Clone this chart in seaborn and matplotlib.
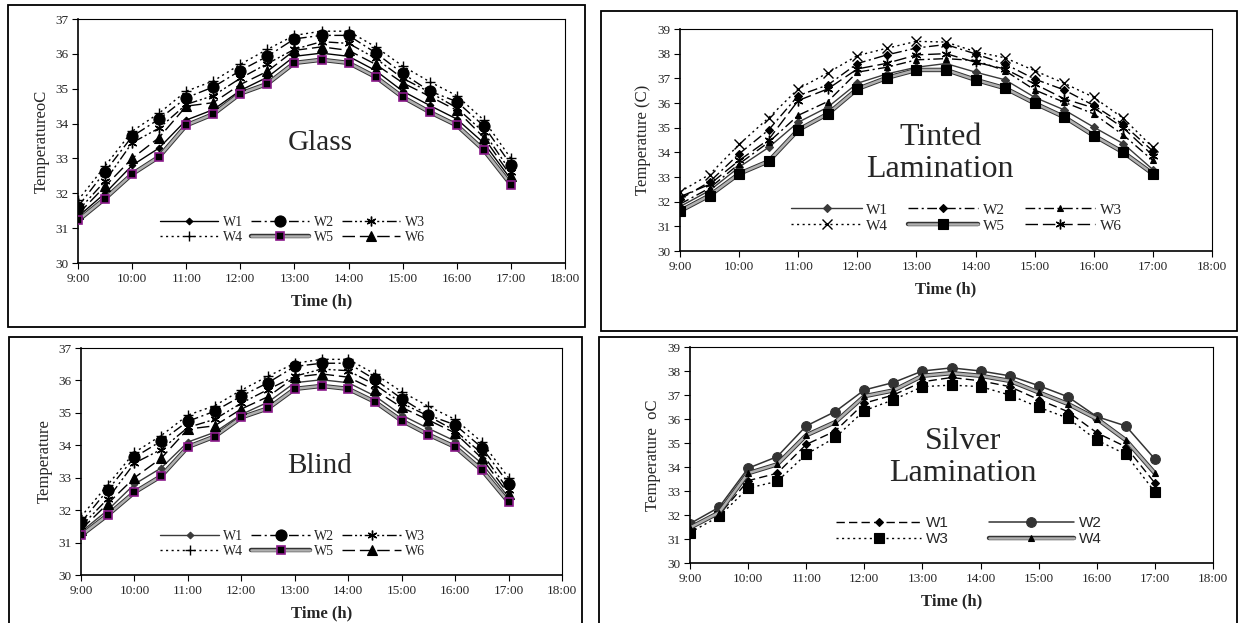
import matplotlib
matplotlib.use("Agg")
import matplotlib.pyplot as plt
import matplotlib.patheffects as pe
from matplotlib.patches import Rectangle
from matplotlib.legend_handler import HandlerTuple
import seaborn as sns

# ---------------- data ----------------
times = [9.0, 9.5, 10.0, 10.5, 11.0, 11.5, 12.0, 12.5, 13.0, 13.5,
         14.0, 14.5, 15.0, 15.5, 16.0, 16.5, 17.0]
x_ticks = [9, 10, 11, 12, 13, 14, 15, 16, 17, 18]
x_tick_labels = ["9:00", "10:00", "11:00", "12:00", "13:00", "14:00",
                 "15:00", "16:00", "17:00", "18:00"]
series_names6 = ["W1", "W2", "W3", "W4", "W5", "W6"]
series_names4 = ["W1", "W2", "W3", "W4"]

glass_w1 = [31.33, 32.0, 32.8, 33.3, 34.1, 34.4, 34.95, 35.33, 35.93, 36.02, 35.93, 35.52, 34.93, 34.52, 34.13, 33.44, 32.4]
glass_w2 = [31.62, 32.62, 33.63, 34.13, 34.74, 35.05, 35.52, 35.93, 36.43, 36.53, 36.53, 36.03, 35.44, 34.93, 34.63, 33.93, 32.82]
glass_w3 = [31.5, 32.35, 33.45, 33.87, 34.55, 34.8, 35.3, 35.72, 36.13, 36.35, 36.3, 35.87, 35.3, 34.9, 34.45, 33.75, 32.62]
glass_w4 = [31.8, 32.78, 33.78, 34.3, 34.93, 35.22, 35.7, 36.13, 36.53, 36.65, 36.65, 36.2, 35.65, 35.2, 34.8, 34.1, 33.0]
glass_w5 = [31.22, 31.85, 32.55, 33.05, 33.95, 34.27, 34.86, 35.14, 35.74, 35.83, 35.74, 35.34, 34.76, 34.33, 33.95, 33.24, 32.25]
glass_w6 = [31.4, 32.2, 33.0, 33.6, 34.5, 34.6, 35.12, 35.5, 36.1, 36.2, 36.1, 35.7, 35.17, 34.78, 34.38, 33.6, 32.5]

blind_w1 = [31.33, 32.0, 32.8, 33.3, 34.1, 34.4, 34.95, 35.33, 35.93, 36.02, 35.93, 35.52, 34.93, 34.52, 34.13, 33.44, 32.4]
blind_w2 = [31.62, 32.62, 33.63, 34.13, 34.74, 35.05, 35.52, 35.93, 36.43, 36.53, 36.53, 36.03, 35.44, 34.93, 34.63, 33.93, 32.82]
blind_w3 = [31.5, 32.35, 33.45, 33.87, 34.55, 34.8, 35.3, 35.72, 36.13, 36.35, 36.3, 35.87, 35.3, 34.9, 34.45, 33.75, 32.62]
blind_w4 = [31.8, 32.78, 33.78, 34.3, 34.93, 35.22, 35.7, 36.13, 36.53, 36.65, 36.65, 36.2, 35.65, 35.2, 34.8, 34.1, 33.0]
blind_w5 = [31.22, 31.85, 32.55, 33.05, 33.95, 34.27, 34.86, 35.14, 35.74, 35.83, 35.74, 35.34, 34.76, 34.33, 33.95, 33.24, 32.25]
blind_w6 = [31.4, 32.2, 33.0, 33.6, 34.5, 34.6, 35.12, 35.5, 36.1, 36.2, 36.1, 35.7, 35.17, 34.78, 34.38, 33.6, 32.5]

tinted_w1 = [31.8, 32.45, 33.4, 34.2, 35.22, 35.83, 36.8, 37.18, 37.45, 37.6, 37.25, 36.94, 36.23, 35.72, 35.02, 34.35, 33.3]
tinted_w2 = [32.1, 32.8, 33.94, 34.91, 36.3, 36.73, 37.6, 37.95, 38.23, 38.37, 37.99, 37.58, 36.97, 36.53, 35.9, 35.13, 34.05]
tinted_w3 = [31.9, 32.55, 33.53, 34.41, 35.5, 36.06, 37.25, 37.45, 37.75, 37.8, 37.72, 37.31, 36.53, 36.03, 35.56, 34.7, 33.67]
tinted_w4 = [32.4, 33.1, 34.32, 35.4, 36.57, 37.22, 37.92, 38.22, 38.5, 38.47, 38.08, 37.83, 37.31, 36.8, 36.23, 35.38, 34.2]
tinted_w5 = [31.62, 32.25, 33.13, 33.64, 34.91, 35.56, 36.57, 37.02, 37.34, 37.34, 36.94, 36.6, 35.99, 35.43, 34.68, 34.0, 33.13]
tinted_w6 = [32.2, 32.7, 33.67, 34.52, 36.1, 36.57, 37.38, 37.61, 37.95, 38.0, 37.65, 37.38, 36.77, 36.17, 35.8, 34.99, 33.87]

silver_w1 = [31.54, 32.0, 33.43, 33.74, 34.94, 35.5, 36.66, 37.0, 37.55, 37.73, 37.59, 37.35, 36.81, 36.31, 35.43, 34.84, 33.33]
silver_w2 = [31.64, 32.32, 33.95, 34.43, 35.71, 36.31, 37.21, 37.52, 38.0, 38.13, 38.0, 37.8, 37.39, 36.93, 36.1, 35.71, 34.33]
silver_w3 = [31.27, 31.94, 33.12, 33.4, 34.53, 35.23, 36.35, 36.8, 37.35, 37.41, 37.35, 37.0, 36.49, 36.04, 35.12, 34.53, 32.96]
silver_w4 = [31.47, 32.1, 33.74, 34.11, 35.32, 35.87, 36.95, 37.19, 37.8, 37.91, 37.8, 37.59, 37.11, 36.63, 36.01, 35.12, 33.74]

# ---------------- styling ----------------
sns.set_theme(style="white")
plt.rcParams["font.family"] = ["Liberation Serif", "DejaVu Serif"]

W, H = 1241, 623
fig = plt.figure(figsize=(W / 100, H / 100), dpi=100)
fig.patch.set_facecolor("white")


def px_axes(x0, y0, x1, y1):
    return fig.add_axes([x0 / W, 1 - y1 / H, (x1 - x0) / W, (y1 - y0) / H])


def frame(x0, y0, x1, y1):
    fig.add_artist(Rectangle((x0 / W, 1 - y1 / H), (x1 - x0) / W, (y1 - y0) / H,
                             transform=fig.transFigure, fill=False,
                             ec="black", lw=1.3, clip_on=False))


DASHDOT = (0, (7, 2.5, 1.5, 2.5))
DASHDOTDOT = (0, (7, 2, 1.5, 2, 1.5, 2))
DOTTED = (0, (1.5, 2.5))
LONGDASH = (0, (9, 3.5))
DASHED = (0, (6, 3))
ASTER = (6, 2, 0)
TEXTURE = [pe.Stroke(linewidth=3.2, foreground="#333333"), pe.Normal()]

glass_styles = [
    dict(color="black", ls="-", marker="D", ms=3.4, lw=1.0),
    dict(color="black", ls=DASHDOT, marker="o", ms=8, lw=1.0),
    dict(color="black", ls=DASHDOTDOT, marker=ASTER, ms=7, lw=1.0, mew=1.0),
    dict(color="black", ls=DOTTED, marker="+", ms=7.5, lw=1.0, mew=1.0),
    dict(color="#b0b0b0", ls="-", marker="s", ms=5.5, lw=1.8, mfc="black",
         mec="#8b1a8b", mew=1.2, textured=True),
    dict(color="black", ls=LONGDASH, marker="^", ms=7, lw=1.0),
]
tinted_styles = [
    dict(color="#3a3a3a", ls="-", marker="D", ms=3.6, lw=1.0),
    dict(color="black", ls=DASHDOT, marker="D", ms=4, lw=1.0),
    dict(color="black", ls=DASHDOT, marker="^", ms=5, lw=1.0),
    dict(color="black", ls=DOTTED, marker="x", ms=6.5, lw=1.0, mew=1.0),
    dict(color="#b0b0b0", ls="-", marker="s", ms=6.5, lw=1.8, mfc="black",
         mec="black", textured=True),
    dict(color="black", ls=LONGDASH, marker=ASTER, ms=7, lw=1.0, mew=1.0),
]
silver_styles = [
    dict(color="black", ls=DASHED, marker="D", ms=4.5, lw=1.0),
    dict(color="#333333", ls="-", marker="o", ms=7, lw=1.1),
    dict(color="black", ls=DOTTED, marker="s", ms=6.5, lw=1.0),
    dict(color="#b0b0b0", ls="-", marker="^", ms=5, lw=1.8, mfc="black",
         mec="black", textured=True),
]


def draw_panel(ax, data, names, styles, ymax, ylabel, title, title_xy,
               title_size, leg_xy, leg_ncol, leg_order, leg_font,
               leg_size, tick_size, hlen=4.2, cspace=0.6, title_ls=1.15):
    handles = []
    for vals, name, st in zip(data, names, styles):
        st = dict(st)
        textured = st.pop("textured", False)
        ls = st.pop("ls")
        lw = st.pop("lw")
        ms = st.pop("ms")
        marker = st.pop("marker")
        color = st.pop("color")
        mfc = st.pop("mfc", color)
        mec = st.pop("mec", color)
        mew = st.pop("mew", 0.8)
        if textured:
            sns.lineplot(x=times, y=vals, ax=ax, linestyle=ls, linewidth=lw,
                         color=color, path_effects=TEXTURE, legend=False)
            h_line = ax.get_lines()[-1]
            sns.lineplot(x=times, y=vals, ax=ax, linestyle="none", marker=marker,
                         markersize=ms, markerfacecolor=mfc,
                         markeredgecolor=mec, markeredgewidth=mew,
                         color="black", legend=False)
            h_mark = ax.get_lines()[-1]
            h_mark.set_zorder(3)
            handles.append((h_line, h_mark))
        else:
            sns.lineplot(x=times, y=vals, ax=ax, linestyle=ls, linewidth=lw,
                         color=color, marker=marker, markersize=ms,
                         markerfacecolor=mfc, markeredgecolor=mec,
                         markeredgewidth=mew, legend=False)
            handles.append(ax.get_lines()[-1])
    ax.set_xlim(9, 18)
    ax.set_ylim(30, ymax)
    ax.set_xticks(x_ticks)
    ax.set_xticklabels(x_tick_labels, fontsize=tick_size)
    ax.set_yticks(range(30, ymax + 1))
    ax.set_yticklabels([str(v) for v in range(30, ymax + 1)], fontsize=tick_size)
    ax.tick_params(axis="both", direction="out", length=4, width=0.8,
                   color="black", pad=3, left=True, bottom=True)
    for sp in ax.spines.values():
        sp.set_visible(True)
        sp.set_color("black")
        sp.set_linewidth(0.8)
    ax.spines["left"].set_linewidth(1.2)
    ax.spines["bottom"].set_linewidth(1.2)
    ax.grid(False)
    ax.set_xlabel("Time (h)", fontsize=12, fontweight="bold", labelpad=6)
    ax.set_ylabel(ylabel, fontsize=12, labelpad=4)
    ax.text(title_xy[0], title_xy[1], title, transform=ax.transAxes,
            ha="center", va="center", fontsize=title_size,
            linespacing=title_ls)
    hs = [handles[i] for i in leg_order]
    labels = [names[i] for i in leg_order]
    ax.legend(hs, labels, loc="center", bbox_to_anchor=leg_xy,
              ncol=leg_ncol, frameon=False, handlelength=hlen,
              handletextpad=0.3, columnspacing=cspace, labelspacing=0.15,
              borderpad=0.1, prop={"family": leg_font, "size": leg_size},
              handler_map={tuple: HandlerTuple(ndivide=1, pad=0)})


# Glass
frame(8, 5, 585, 327)
ax1 = px_axes(78, 19, 565, 263)
draw_panel(ax1, [glass_w1, glass_w2, glass_w3, glass_w4, glass_w5, glass_w6],
           series_names6, glass_styles, 37, "TemperatureoC", "Glass",
           (0.497, 0.49), 21, (0.44, 0.137), 3, [0, 3, 1, 4, 2, 5],
           "Liberation Serif", 10, 9.5)

# Tinted lamination
frame(601, 11, 1237, 331)
ax2 = px_axes(680, 29, 1212, 251)
draw_panel(ax2, [tinted_w1, tinted_w2, tinted_w3, tinted_w4, tinted_w5, tinted_w6],
           series_names6, tinted_styles, 39, "Temperature (C)",
           "Tinted\nLamination", (0.489, 0.44), 23, (0.52, 0.149), 3,
           [0, 3, 1, 4, 2, 5], "Liberation Serif", 11, 9.5,
           hlen=4.6, cspace=1.3)

# Blind
frame(9, 337, 582, 660)
ax3 = px_axes(81, 348, 562, 575)
blind_styles = [dict(s) for s in glass_styles]
blind_styles[0]["color"] = "#3a3a3a"
draw_panel(ax3, [blind_w1, blind_w2, blind_w3, blind_w4, blind_w5, blind_w6],
           series_names6, blind_styles, 37, "Temperature", "Blind",
           (0.497, 0.48), 21, (0.44, 0.138), 3, [0, 3, 1, 4, 2, 5],
           "Liberation Serif", 10, 9.5)

# Silver lamination
frame(599, 337, 1237, 660)
ax4 = px_axes(690, 347, 1213, 563)
draw_panel(ax4, [silver_w1, silver_w2, silver_w3, silver_w4],
           series_names4, silver_styles, 39, "Temperature  oC",
           "Silver\nLamination", (0.522, 0.49), 23, (0.533, 0.148), 2,
           [0, 2, 1, 3], "Liberation Sans", 11, 9.5,
           hlen=5.6, cspace=2.6)

fig.savefig("out.png", dpi=100, facecolor="white")
